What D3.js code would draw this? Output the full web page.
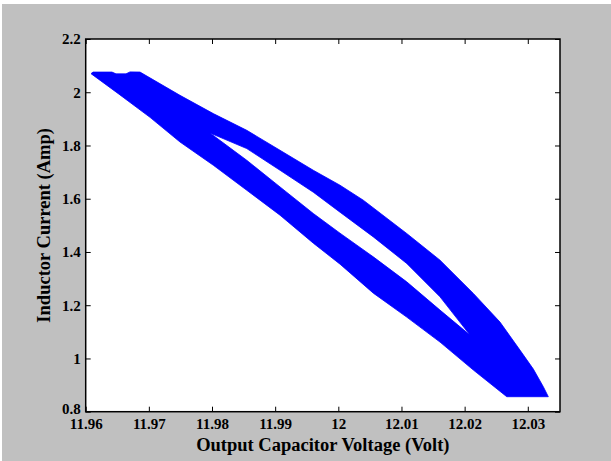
<!DOCTYPE html>
<html lang="en">
<head>
  <meta charset="UTF-8">
  <title>Inductor Current vs Output Capacitor Voltage</title>
  <script src="https://d3js.org/d3.v7.min.js"></script>
  <style>
    body { margin: 0; background: #fff; }
    svg { display: block; }
    .tick text { font-family: 'Liberation Serif', 'Times New Roman', serif; font-weight: bold; font-size: 15px; fill: #000; }
    .tick line { stroke: #000; }
    .title { font-family: 'Liberation Serif', 'Times New Roman', serif; font-weight: bold; font-size: 18.5px; fill: #000; }
  </style>
</head>
<body>
  <svg width="611" height="461"></svg>
  <script>
    // outline of the band swept by the trajectory (volt, amp), clockwise from the upper-left tip
    const outerVolt = [11.96084, 11.96116, 11.96416, 11.96480, 11.96638, 11.96702, 11.96860,
      11.97493, 11.98021, 11.98550, 11.99077, 11.99604, 12.00027, 12.00396, 12.01083, 12.01610,
      12.02138, 12.02560, 12.02876, 12.03088, 12.03246, 12.03325,
      12.02667, 12.02138, 12.01610, 12.01083, 12.00554, 12.00027, 11.99604, 11.99077,
      11.98550, 11.98021, 11.97493, 11.97018, 11.96516];
    const outerAmp = [2.0698, 2.0758, 2.0758, 2.0690, 2.0690, 2.0765, 2.0758,
      1.9884, 1.9197, 1.8570, 1.7820, 1.7069, 1.6507, 1.5944, 1.4694, 1.3692,
      1.2443, 1.1366, 1.0315, 0.9600, 0.8938, 0.8563,
      0.8563, 0.9565, 1.0615, 1.1553, 1.2454, 1.3542, 1.4330, 1.5381,
      1.6319, 1.7257, 1.8131, 1.9058, 1.9947];

    // empty region enclosed by the loops
    const holeVolt = [11.97968, 11.98550, 11.99077, 11.99604, 12.00027, 12.00554, 12.01083, 12.01610, 12.02085,
      12.01610, 12.01083, 12.00554, 12.00027, 11.99604, 11.99077, 11.98550];
    const holeAmp = [1.8469, 1.7884, 1.7069, 1.6244, 1.5493, 1.4567, 1.3568, 1.2315, 1.0878,
      1.1816, 1.2878, 1.3816, 1.4705, 1.5445, 1.6443, 1.7445];

    const xTicks = [11.96, 11.97, 11.98, 11.99, 12, 12.01, 12.02, 12.03];
    const yTicks = [0.8, 1, 1.2, 1.4, 1.6, 1.8, 2, 2.2];

    const svg = d3.select("svg");
    const W = 611, H = 461;
    const plot = { left: 85.7, right: 560, top: 39, bottom: 411.7 };

    svg.append("rect").attr("x", 2).attr("y", 4).attr("width", W - 2).attr("height", H - 4).attr("fill", "#c0c0c0");
    svg.append("rect")
      .attr("x", plot.left).attr("y", plot.top)
      .attr("width", plot.right - plot.left).attr("height", plot.bottom - plot.top)
      .attr("fill", "#fff");

    const x = d3.scaleLinear().domain([11.96, 12.0351]).range([plot.left, plot.right]);
    const y = d3.scaleLinear().domain([0.8, 2.2]).range([plot.bottom, plot.top]);

    const line = d3.line().x(d => x(d[0])).y(d => y(d[1])).curve(d3.curveLinearClosed);
    const outer = outerVolt.map((v, i) => [v, outerAmp[i]]);
    const hole = holeVolt.map((v, i) => [v, holeAmp[i]]);

    svg.append("path")
      .attr("d", line(outer) + line(hole))
      .attr("fill", "#0000ff")
      .attr("fill-rule", "evenodd")
      .attr("stroke", "#0000ff")
      .attr("stroke-width", 0.8)
      .attr("stroke-linejoin", "round");

    const fmt = d => String(+d.toFixed(2));

    svg.append("g")
      .attr("transform", `translate(0,${plot.bottom})`)
      .call(d3.axisBottom(x).tickValues(xTicks).tickSizeInner(-5).tickSizeOuter(0).tickPadding(7).tickFormat(fmt))
      .call(g => g.select(".domain").remove());
    svg.append("g")
      .attr("transform", `translate(0,${plot.top})`)
      .call(d3.axisTop(x).tickValues(xTicks).tickSizeInner(-5).tickSizeOuter(0).tickFormat(""))
      .call(g => g.select(".domain").remove());
    svg.append("g")
      .attr("transform", `translate(${plot.left},0)`)
      .call(d3.axisLeft(y).tickValues(yTicks).tickSizeInner(-5).tickSizeOuter(0).tickPadding(5).tickFormat(fmt))
      .call(g => g.select(".domain").remove())
      .call(g => g.selectAll(".tick").filter(d => d === 0.8).select("text").attr("dy", "0.1em"));
    svg.append("g")
      .attr("transform", `translate(${plot.right},0)`)
      .call(d3.axisRight(y).tickValues(yTicks).tickSizeInner(-5).tickSizeOuter(0).tickFormat(""))
      .call(g => g.select(".domain").remove());

    svg.selectAll(".tick text").attr("font-family", null).attr("font-size", null);

    svg.append("rect")
      .attr("x", plot.left).attr("y", plot.top)
      .attr("width", plot.right - plot.left).attr("height", plot.bottom - plot.top)
      .attr("fill", "none").attr("stroke", "#000").attr("stroke-width", 1.5);

    svg.append("text")
      .attr("class", "title")
      .attr("x", (plot.left + plot.right) / 2).attr("y", 451)
      .attr("text-anchor", "middle")
      .text("Output Capacitor Voltage (Volt)");

    svg.append("text")
      .attr("class", "title")
      .attr("transform", `translate(50,${(plot.top + plot.bottom) / 2}) rotate(-90)`)
      .attr("text-anchor", "middle")
      .text("Inductor Current (Amp)");
  </script>
</body>
</html>
